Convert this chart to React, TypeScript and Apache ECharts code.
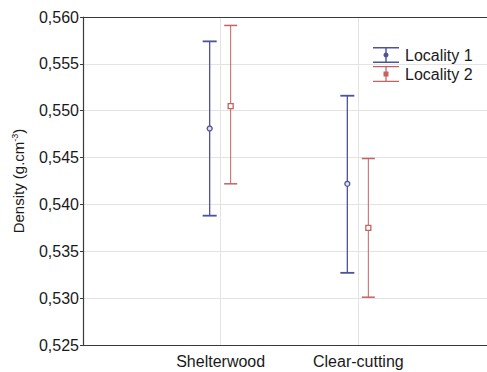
import React, { useEffect, useRef } from "react";
import * as echarts from "echarts";

const categories = ["Shelterwood", "Clear-cutting"];
const yTicks = [0.525, 0.53, 0.535, 0.54, 0.545, 0.55, 0.555, 0.56];

const loc1Mean = [0.5481, 0.5422];
const loc1Low = [0.5388, 0.5327];
const loc1High = [0.5574, 0.5516];

const loc2Mean = [0.5505, 0.5375];
const loc2Low = [0.5422, 0.5301];
const loc2High = [0.5591, 0.5449];

const C1 = "#4e5299";
const C2 = "#c46262";

function makeData(low: number[], mean: number[], high: number[]) {
  return categories.map((_, i) => [i + 1, low[i], mean[i], high[i]]);
}

function makeRender(offset: number, color: string, marker: "circle" | "square", lw: number, capW: number) {
  return (params: any, api: any) => {
    const x = api.value(0);
    const pL = api.coord([x, api.value(1)]);
    const pM = api.coord([x, api.value(2)]);
    const pH = api.coord([x, api.value(3)]);
    const cx = pM[0] + offset;
    const half = capW / 2;
    const children: any[] = [
      { type: "line", shape: { x1: cx, y1: pH[1], x2: cx, y2: pL[1] }, style: { stroke: color, lineWidth: lw } },
      { type: "line", shape: { x1: cx - half, y1: pH[1], x2: cx + half, y2: pH[1] }, style: { stroke: color, lineWidth: lw + 0.5 } },
      { type: "line", shape: { x1: cx - half, y1: pL[1], x2: cx + half, y2: pL[1] }, style: { stroke: color, lineWidth: lw + 0.5 } },
    ];
    if (marker === "circle") {
      children.push({ type: "circle", shape: { cx, cy: pM[1], r: 2.5 }, style: { fill: "#dfe0f0", stroke: color, lineWidth: 1.3 } });
    } else {
      children.push({ type: "rect", shape: { x: cx - 2.5, y: pM[1] - 2.5, width: 5, height: 5 }, style: { fill: "#fff", stroke: color, lineWidth: 1.3 } });
    }
    return { type: "group", children };
  };
}

const icon1 = "path://M0,0H26V1.5H0Z M12.3,1.5H13.7V14.5H12.3Z M0,14.5H26V16H0Z M13,5.5A2.5,2.5,0,1,1,12.99,5.5Z";
const icon2 = "path://M0,0H26V1.2H0Z M12.4,1.2H13.6V14.8H12.4Z M0,14.8H26V16H0Z M10.5,5.5H15.5V10.5H10.5Z";

export default function App() {
  const ref = useRef<HTMLDivElement>(null);
  useEffect(() => {
    if (!ref.current) return;
    const chart = echarts.init(ref.current, undefined, { renderer: "svg" });
    const font = "Liberation Sans, Arial, sans-serif";
    chart.setOption({
      animation: false,
      backgroundColor: "#fff",
      textStyle: { fontFamily: font },
      grid: { left: 83, top: 17, bottom: 27, width: 413, containLabel: false, outerBoundsMode: "none" },
      legend: {
        orient: "vertical",
        left: 368,
        top: 42,
        itemWidth: 28,
        itemHeight: 16,
        itemGap: 3,
        textStyle: { fontSize: 16, color: "#1a1a1a", fontFamily: font },
        data: [
          { name: "Locality 1", icon: icon1 },
          { name: "Locality 2", icon: icon2 },
        ],
      },
      xAxis: [
        {
          type: "value",
          min: 0,
          max: 3,
          interval: 1,
          axisLine: { show: true, lineStyle: { color: "#3a3a3a", width: 1.2 } },
          axisTick: { show: false },
          splitLine: { show: true, lineStyle: { color: "#e3e3e3", width: 1 } },
          axisLabel: {
            fontSize: 16,
            color: "#1a1a1a",
            margin: 8,
            formatter: (v: number) => (v >= 1 && v <= categories.length && Number.isInteger(v) ? categories[v - 1] : ""),
          },
        },
        {
          type: "value",
          position: "top",
          min: 0,
          max: 3,
          axisLine: { show: true, lineStyle: { color: "#3a3a3a", width: 1.2 } },
          axisTick: { show: false },
          axisLabel: { show: false },
          splitLine: { show: false },
        },
      ],
      yAxis: {
        type: "value",
        min: yTicks[0],
        max: yTicks[yTicks.length - 1],
        interval: 0.005,
        name: "Density (g.cm{sup|-3})",
        nameLocation: "middle",
        nameGap: 56,
        nameTextStyle: {
          fontSize: 15,
          color: "#1a1a1a",
          rich: { sup: { fontSize: 9, verticalAlign: "top", padding: [0, 0, 8, 0], color: "#1a1a1a" } },
        },
        axisLine: { show: true, lineStyle: { color: "#3a3a3a", width: 1.2 } },
        axisTick: { show: true, length: 3, lineStyle: { color: "#3a3a3a" } },
        splitLine: { show: true, lineStyle: { color: "#e3e3e3", width: 1 } },
        axisLabel: {
          fontSize: 16,
          color: "#1a1a1a",
          margin: 4,
          formatter: (v: number) => v.toFixed(3).replace(".", ","),
        },
      },
      series: [
        {
          name: "Locality 1",
          type: "custom",
          itemStyle: { color: C1 },
          encode: { x: 0, y: [1, 2, 3] },
          renderItem: makeRender(-11, C1, "circle", 1.3, 14),
          data: makeData(loc1Low, loc1Mean, loc1High),
        },
        {
          name: "Locality 2",
          type: "custom",
          itemStyle: { color: C2 },
          encode: { x: 0, y: [1, 2, 3] },
          renderItem: makeRender(10, C2, "square", 1, 13),
          data: makeData(loc2Low, loc2Mean, loc2High),
        },
      ],
    });
    return () => chart.dispose();
  }, []);
  return <div ref={ref} style={{ width: 487, height: 372, position: "absolute", left: 0, top: 0 }} />;
}
